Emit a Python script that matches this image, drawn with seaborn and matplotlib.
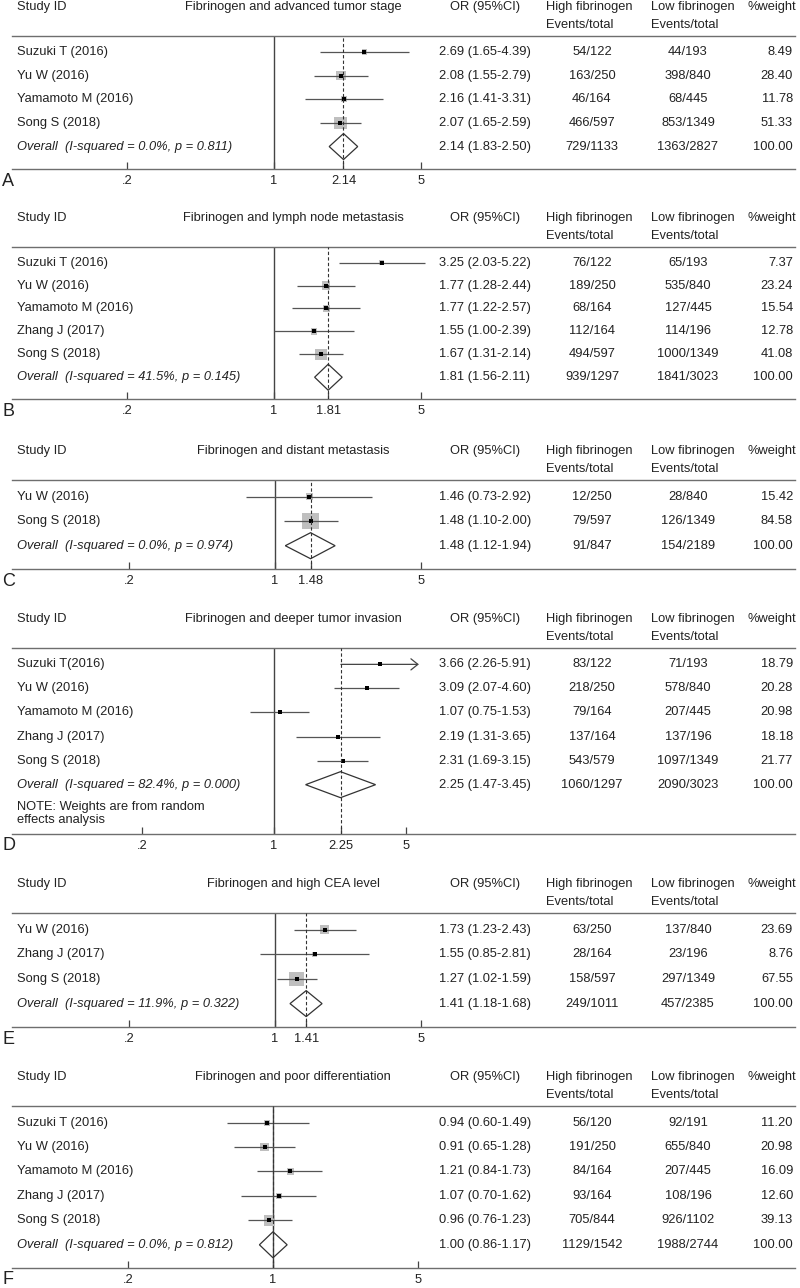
# Forest plots: fibrinogen and clinicopathological features (panels A-F)
import numpy as np
import pandas as pd
import seaborn as sns
import matplotlib.pyplot as plt
from matplotlib.patches import Polygon, FancyArrowPatch
from matplotlib.transforms import blended_transform_factory

# ---- data ----
titles = [
    "Fibrinogen and advanced tumor stage",
    "Fibrinogen and lymph node metastasis",
    "Fibrinogen and distant metastasis",
    "Fibrinogen and deeper tumor invasion",
    "Fibrinogen and high CEA level",
    "Fibrinogen and poor differentiation",
]

# A
studies_A = ["Suzuki T (2016)", "Yu W (2016)", "Yamamoto M (2016)", "Song S (2018)"]
or_A = [2.69, 2.08, 2.16, 2.07]
lo_A = [1.65, 1.55, 1.41, 1.65]
hi_A = [4.39, 2.79, 3.31, 2.59]
high_A = ["54/122", "163/250", "46/164", "466/597"]
low_A = ["44/193", "398/840", "68/445", "853/1349"]
wt_A = [8.49, 28.40, 11.78, 51.33]
overall_A = [2.14, 1.83, 2.50, "729/1133", "1363/2827", "0.0%", "0.811"]

# B
studies_B = ["Suzuki T (2016)", "Yu W (2016)", "Yamamoto M (2016)", "Zhang J (2017)", "Song S (2018)"]
or_B = [3.25, 1.77, 1.77, 1.55, 1.67]
lo_B = [2.03, 1.28, 1.22, 1.00, 1.31]
hi_B = [5.22, 2.44, 2.57, 2.39, 2.14]
high_B = ["76/122", "189/250", "68/164", "112/164", "494/597"]
low_B = ["65/193", "535/840", "127/445", "114/196", "1000/1349"]
wt_B = [7.37, 23.24, 15.54, 12.78, 41.08]
overall_B = [1.81, 1.56, 2.11, "939/1297", "1841/3023", "41.5%", "0.145"]

# C
studies_C = ["Yu W (2016)", "Song S (2018)"]
or_C = [1.46, 1.48]
lo_C = [0.73, 1.10]
hi_C = [2.92, 2.00]
high_C = ["12/250", "79/597"]
low_C = ["28/840", "126/1349"]
wt_C = [15.42, 84.58]
overall_C = [1.48, 1.12, 1.94, "91/847", "154/2189", "0.0%", "0.974"]

# D (random effects)
studies_D = ["Suzuki T(2016)", "Yu W (2016)", "Yamamoto M (2016)", "Zhang J (2017)", "Song S (2018)"]
or_D = [3.66, 3.09, 1.07, 2.19, 2.31]
lo_D = [2.26, 2.07, 0.75, 1.31, 1.69]
hi_D = [5.91, 4.60, 1.53, 3.65, 3.15]
high_D = ["83/122", "218/250", "79/164", "137/164", "543/579"]
low_D = ["71/193", "578/840", "207/445", "137/196", "1097/1349"]
wt_D = [18.79, 20.28, 20.98, 18.18, 21.77]
overall_D = [2.25, 1.47, 3.45, "1060/1297", "2090/3023", "82.4%", "0.000"]

# E
studies_E = ["Yu W (2016)", "Zhang J (2017)", "Song S (2018)"]
or_E = [1.73, 1.55, 1.27]
lo_E = [1.23, 0.85, 1.02]
hi_E = [2.43, 2.81, 1.59]
high_E = ["63/250", "28/164", "158/597"]
low_E = ["137/840", "23/196", "297/1349"]
wt_E = [23.69, 8.76, 67.55]
overall_E = [1.41, 1.18, 1.68, "249/1011", "457/2385", "11.9%", "0.322"]

# F
studies_F = ["Suzuki T (2016)", "Yu W (2016)", "Yamamoto M (2016)", "Zhang J (2017)", "Song S (2018)"]
or_F = [0.94, 0.91, 1.21, 1.07, 0.96]
lo_F = [0.60, 0.65, 0.84, 0.70, 0.76]
hi_F = [1.49, 1.28, 1.73, 1.62, 1.23]
high_F = ["56/120", "191/250", "84/164", "93/164", "705/844"]
low_F = ["92/191", "655/840", "207/445", "108/196", "926/1102"]
wt_F = [11.20, 20.98, 16.09, 12.60, 39.13]
overall_F = [1.00, 0.86, 1.17, "1129/1542", "1988/2744", "0.0%", "0.812"]

letters = ["A", "B", "C", "D", "E", "F"]
note_D = "NOTE: Weights are from random\neffects analysis"

panels = [
    (studies_A, or_A, lo_A, hi_A, high_A, low_A, wt_A, overall_A),
    (studies_B, or_B, lo_B, hi_B, high_B, low_B, wt_B, overall_B),
    (studies_C, or_C, lo_C, hi_C, high_C, low_C, wt_C, overall_C),
    (studies_D, or_D, lo_D, hi_D, high_D, low_D, wt_D, overall_D),
    (studies_E, or_E, lo_E, hi_E, high_E, low_E, wt_E, overall_E),
    (studies_F, or_F, lo_F, hi_F, high_F, low_F, wt_F, overall_F),
]

# ---- layout (pixels): header line, axis line, x of OR=1, x of OR=5, CI clip ----
W, H = 800, 1288
X0, X1 = 12, 795
layout = [
    (36, 169, 274, 421, 5.5),
    (247, 399, 274, 421, 5.5),
    (480, 569, 275, 421, 5.5),
    (648, 834, 274, 406, 5.85),
    (913, 1027, 275, 421, 5.5),
    (1106, 1268, 273, 418, 5.5),
]

TXT = "#222222"
LINE = "#6e6e6e"
FS = 9.3

sns.set_theme(style="white")
plt.rcParams["font.family"] = ["Liberation Sans", "DejaVu Sans"]

fig = plt.figure(figsize=(W / 100, H / 100), dpi=100)


def fx(px):
    # pixel -> axes fraction along x
    return (px - X0) / (X1 - X0)


for i, (studies, ors, los, his, highs, lows, wts, ov) in enumerate(panels):
    top_px, bot_px, p1, p5, clip = layout[i]
    ax = fig.add_axes([X0 / W, 1 - bot_px / H, (X1 - X0) / W, (bot_px - top_px) / H])
    ax_h = bot_px - top_px

    n = len(studies)
    rows = np.arange(n)
    random_fx = letters[i] == "D"
    ybot = n + (2.05 if random_fx else 0.95)
    ax.set_ylim(ybot, -0.68)

    # log x scale so that 1 and 5 land on the reference pixels
    k = (p5 - p1) / np.log(5)
    ax.set_xscale("log")
    ax.set_xlim(np.exp((X0 - p1) / k), np.exp((X1 - p1) / k))

    df = pd.DataFrame({"or": ors, "lo": los, "hi": his, "wt": wts, "row": rows})

    # weight boxes (fixed-effect panels only)
    if not random_fx:
        sns.scatterplot(data=df, x="or", y="row", size="wt", sizes=(0, 165),
                        size_norm=(0, 100), marker="s", color="#bfbfbf",
                        linewidth=0, legend=False, ax=ax, zorder=2)

    # confidence intervals, arrow when clipped
    for _, r in df.iterrows():
        if r["hi"] > clip:
            arr = FancyArrowPatch((r["lo"], r["row"]), (clip, r["row"]),
                                  arrowstyle="->,head_length=5,head_width=4",
                                  mutation_scale=1, color="#444444", lw=0.9,
                                  shrinkA=0, shrinkB=0, zorder=3)
            ax.add_patch(arr)
        else:
            ax.hlines(r["row"], r["lo"], r["hi"], color="#555555", lw=0.9, zorder=3)

    sns.scatterplot(data=df, x="or", y="row", marker="s", s=6, color="black",
                    linewidth=0, legend=False, ax=ax, zorder=4)

    # overall diamond
    est, olo, ohi, ohigh, olow, i2, pval = ov
    yo = n
    half = 13 / (ax_h / (ybot + 0.68))
    ax.add_patch(Polygon([(olo, yo), (est, yo - half), (ohi, yo), (est, yo + half)],
                         closed=True, facecolor="none", edgecolor="#333333", lw=0.9, zorder=3))

    # reference lines
    ax.axvline(1, color="#444444", lw=1.0, zorder=1)
    ax.axvline(est, color="#333333", lw=0.8, dashes=(3, 2), zorder=5)

    # spines: top = header rule, bottom = x axis
    for s in ["left", "right"]:
        ax.spines[s].set_visible(False)
    for s in ["top", "bottom"]:
        ax.spines[s].set_color(LINE)
        ax.spines[s].set_linewidth(1.0)
    ax.set_yticks([])
    ax.set_xlabel("")
    ax.set_ylabel("")

    ticks = [0.2, 1.0, 5.0]
    labels = [".2", "1", "5"]
    if abs(est - 1.0) > 1e-9:
        ticks.insert(2, est)
        labels.insert(2, f"{est:.2f}")
    ax.set_xticks(ticks)
    ax.set_xticklabels(labels)
    ax.minorticks_off()
    ax.tick_params(axis="x", direction="in", length=5, width=0.9, color="#444444",
                   labelsize=FS, labelcolor=TXT, pad=4.5, bottom=True, top=False)

    tr = blended_transform_factory(ax.transAxes, ax.transData)
    kw = dict(fontsize=FS, color=TXT, va="center", transform=tr, clip_on=False)

    # study rows
    for j in range(n):
        ax.text(fx(17), j, studies[j], ha="left", **kw)
        ax.text(fx(439), j, f"{ors[j]:.2f} ({los[j]:.2f}-{his[j]:.2f})", ha="left", **kw)
        ax.text(fx(592), j, highs[j], ha="center", **kw)
        ax.text(fx(688), j, lows[j], ha="center", **kw)
        ax.text(fx(793), j, f"{wts[j]:.2f}", ha="right", **kw)

    # overall row
    ax.text(fx(17), yo, f"Overall  (I-squared = {i2}, p = {pval})", ha="left",
            style="italic", **kw)
    ax.text(fx(439), yo, f"{est:.2f} ({olo:.2f}-{ohi:.2f})", ha="left", **kw)
    ax.text(fx(592), yo, ohigh, ha="center", **kw)
    ax.text(fx(688), yo, olow, ha="center", **kw)
    ax.text(fx(793), yo, "100.00", ha="right", **kw)

    if random_fx:
        ax.text(fx(17), yo + 1.2, note_D, ha="left", linespacing=1.15, **kw)

    # header (above the rule)
    hk = dict(fontsize=FS, color=TXT, va="center", transform=ax.transAxes, clip_on=False)
    y1 = 1 + 29 / ax_h
    y2 = 1 + 11 / ax_h
    ax.text(fx(17), y1, "Study ID", ha="left", **hk)
    ax.text(fx(293), y1, titles[i], ha="center", **hk)
    ax.text(fx(485), y1, "OR (95%CI)", ha="center", **hk)
    ax.text(fx(546), y1, "High fibrinogen", ha="left", **hk)
    ax.text(fx(546), y2, "Events/total", ha="left", **hk)
    ax.text(fx(651), y1, "Low fibrinogen", ha="left", **hk)
    ax.text(fx(651), y2, "Events/total", ha="left", **hk)
    ax.text(fx(748), y1, "%weight", ha="left", **hk)

    # panel letter
    fig.text(2 / W, 1 - (bot_px + 12) / H, letters[i], fontsize=13, color=TXT,
             ha="left", va="center")

fig.savefig("out.png", dpi=100)
